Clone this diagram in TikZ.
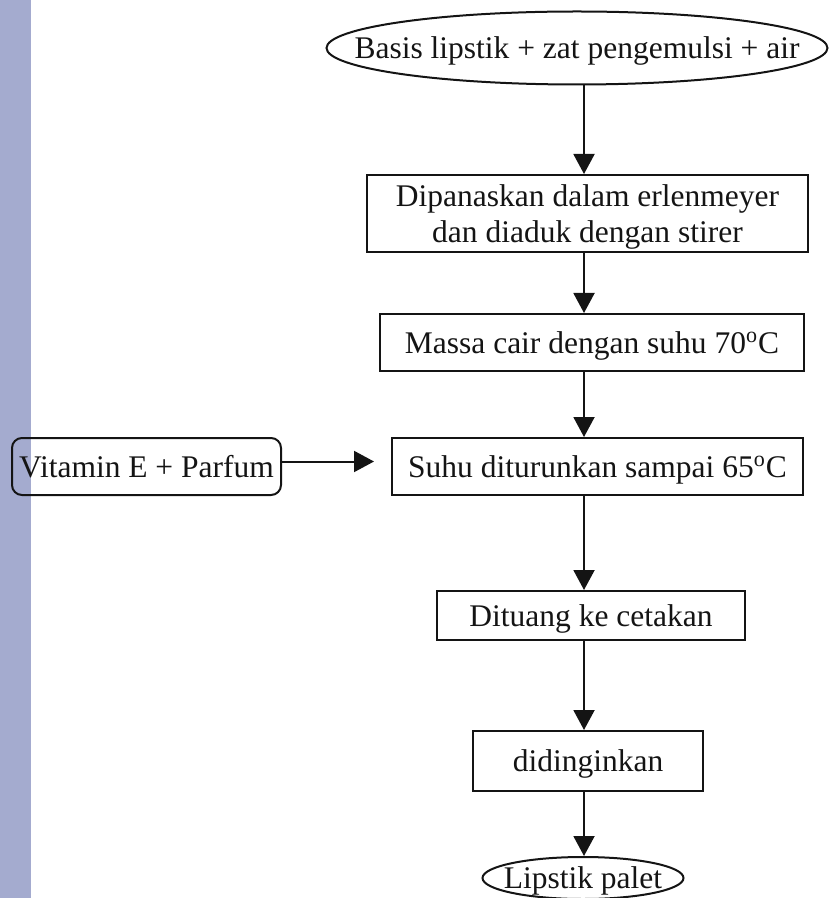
\documentclass[tikz,border=0pt]{standalone}
\usepackage{fontspec}
\setmainfont{Liberation Serif}
\usetikzlibrary{arrows.meta,shapes.geometric}
\definecolor{lpstrip}{RGB}{164,171,207}
\definecolor{lpink}{RGB}{20,20,20}
\def\lpDeg{\textsuperscript{o}}

\begin{document}
\begin{tikzpicture}[
    x=0.5pt, y=-0.5pt,
    lpbox/.style  = {draw=lpink, line width=1pt, inner sep=2pt, text=lpink,
                     font=\fontsize{15.75}{18}\selectfont, align=center, text depth=0pt},
    lpoval/.style = {lpbox, ellipse, inner sep=0pt},
    lparr/.style  = {-{Triangle[length=10pt,width=10.5pt]}, draw=lpink, line width=1pt}]

  \useasboundingbox (0,0) rectangle (831,898);
  \fill[lpstrip] (0,0) rectangle (31,898);

  % all vertical arrows run down this line
  \coordinate (spine) at (584,0);

  %% ---- steps ---------------------------------------------------------
  \node[lpoval, minimum width=250.5pt, minimum height=36.5pt] (base) at (577,48)
    {\makebox[0pt]{Basis lipstik + zat pengemulsi + air}};
  \node[lpbox, minimum width=220.5pt, minimum height=38.5pt] (heat) at (587.5,213.5)
    {Dipanaskan dalam erlenmeyer\\dan diaduk dengan stirer};
  \node[lpbox, minimum width=212pt, minimum height=28.5pt] (melt) at (592,342.5)
    {Massa cair dengan suhu 70\lpDeg C};
  \node[lpbox, minimum width=205.5pt, minimum height=28.5pt] (cool) at (597.5,466.5)
    {Suhu diturunkan sampai 65\lpDeg C};
  \node[lpbox, rounded corners=5pt, minimum width=134.5pt, minimum height=28.5pt] (vit) at (146.5,466.5)
    {Vitamin E + Parfum};
  \node[lpbox, minimum width=154pt, minimum height=24.5pt] (pour) at (591,615.5)
    {Dituang ke cetakan};
  \node[lpbox, minimum width=115pt, minimum height=30pt] (chill) at (588,761)
    {didinginkan};
  \node[lpoval, minimum width=100.5pt, minimum height=21pt] (palet) at (583,878)
    {\makebox[0pt]{Lipstik palet}};

  %% ---- arrows --------------------------------------------------------
  \draw[lparr] (base.south -| spine)  -- (heat.north -| spine);
  \draw[lparr] (heat.south -| spine)  -- (melt.north -| spine);
  \draw[lparr] (melt.south -| spine)  -- (cool.north -| spine);
  \draw[lparr] (cool.south -| spine)  -- (pour.north -| spine);
  \draw[lparr] (pour.south -| spine)  -- (chill.north -| spine);
  \draw[lparr] (chill.south -| spine) -- (palet.north -| spine);
  \draw[lparr, shorten >=8.5pt] ([yshift=2.5pt]vit.east) -- ([yshift=2.5pt]vit.east -| cool.west);
\end{tikzpicture}
\end{document}
